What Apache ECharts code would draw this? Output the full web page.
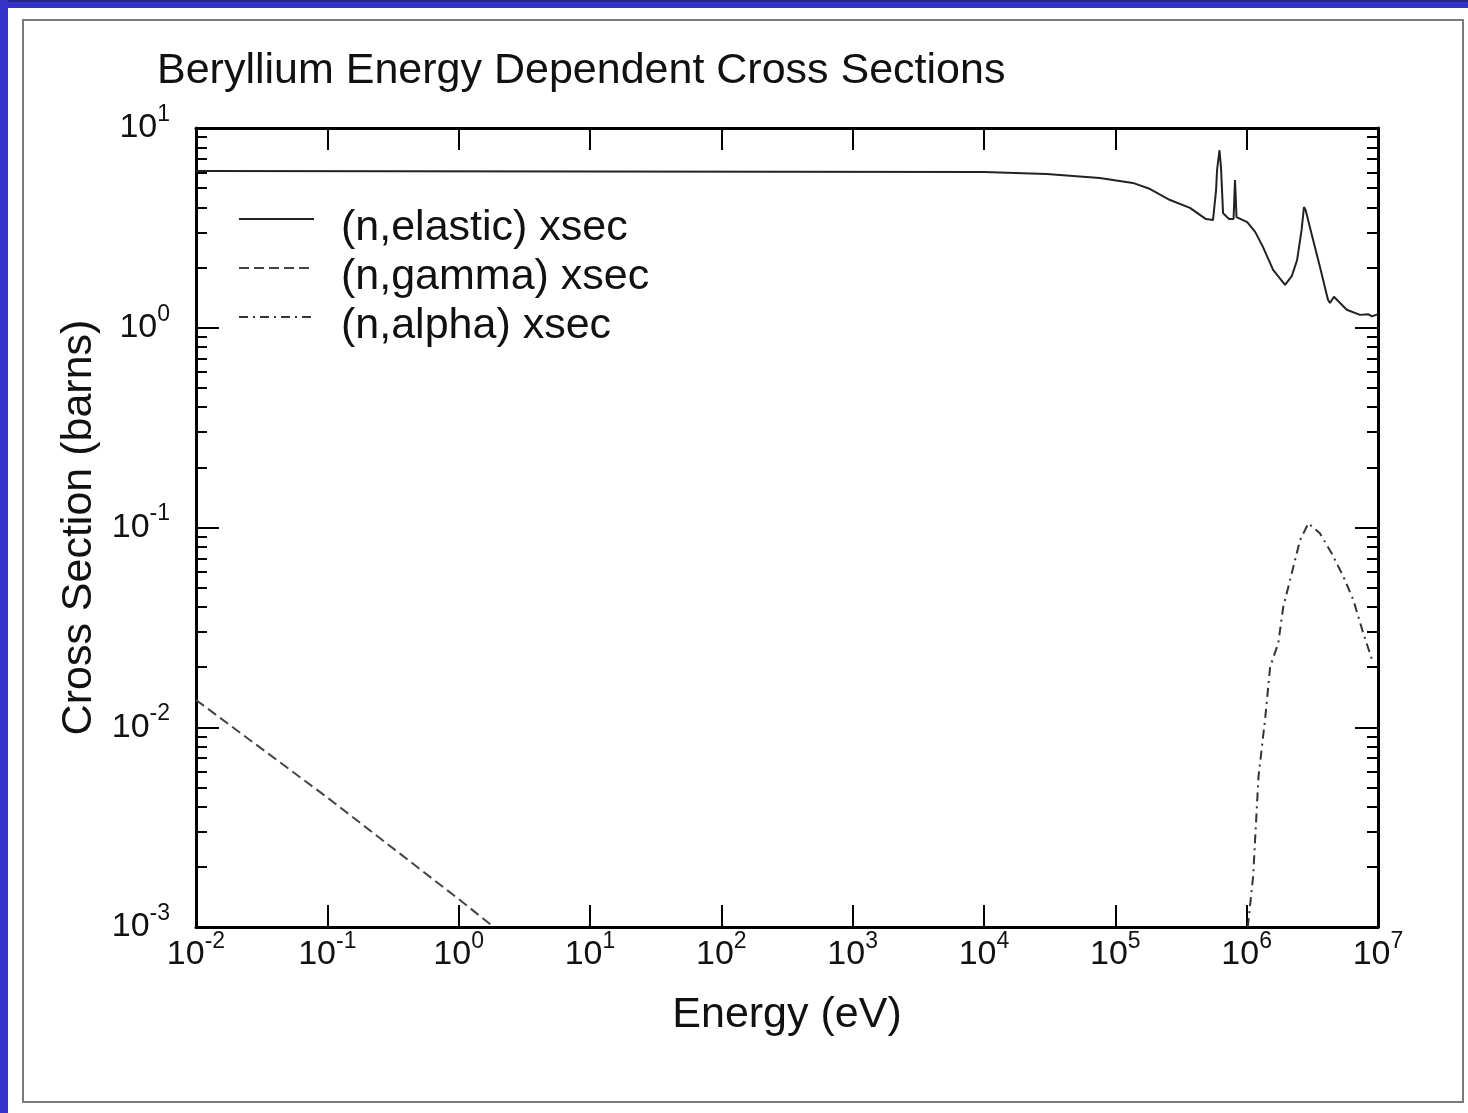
<!DOCTYPE html>
<html>
<head>
<meta charset="utf-8">
<script src="https://cdn.jsdelivr.net/npm/echarts@6/dist/echarts.min.js"></script>
<style>
  html, body { margin: 0; padding: 0; background: #fff; }
  #page { position: relative; width: 1468px; height: 1113px; background: #fff; overflow: hidden; }
  #blueTop { position: absolute; left: 0; top: 0; width: 1468px; height: 8px; background: #3434c8; border-top: 2px solid #24248a; box-sizing: border-box; }
  #blueLeft { position: absolute; left: 0; top: 0; width: 8px; height: 1113px; background: #3434c8; }
  #panel { position: absolute; left: 22px; top: 19px; width: 1438px; height: 1080px; border: 2px solid #7a7a7a; }
  #chart { position: absolute; left: 0; top: 0; width: 1468px; height: 1113px; }
</style>
</head>
<body>
<div id="page">
  <div id="blueTop"></div>
  <div id="blueLeft"></div>
  <div id="panel"></div>
  <div id="chart"></div>
</div>
<script>
// energies in eV, cross sections in barns
const elasticE = [1e-2, 1e4, 3.0e4, 7.6e4, 1.36e5, 1.84e5, 2.61e5, 3.70e5, 4.90e5, 5.54e5, 5.85e5, 5.95e5, 6.21e5, 6.38e5, 6.61e5, 7.34e5, 7.95e5, 8.15e5, 8.37e5, 1.01e6, 1.16e6, 1.33e6, 1.59e6, 1.96e6, 2.21e6, 2.42e6, 2.62e6, 2.73e6, 2.81e6, 3.04e6, 3.62e6, 4.16e6, 4.31e6, 4.62e6, 5.78e6, 7.29e6, 8.39e6, 9.0e6, 1e7];
const elasticXs = [6.09, 6.02, 5.88, 5.62, 5.31, 4.95, 4.36, 3.98, 3.50, 3.46, 4.89, 6.16, 7.74, 6.31, 3.75, 3.50, 3.50, 5.49, 3.58, 3.38, 3.02, 2.54, 1.95, 1.64, 1.82, 2.18, 3.09, 4.02, 3.89, 3.16, 2.01, 1.38, 1.33, 1.43, 1.23, 1.16, 1.17, 1.14, 1.17];

const gammaE = [0.01, 0.1, 1.0, 1.85];
const gammaXs = [0.0137, 0.00445, 0.00138, 0.001];

const alphaE = [1.02e6, 1.12e6, 1.23e6, 1.38e6, 1.51e6, 1.74e6, 1.90e6, 2.27e6, 2.55e6, 2.95e6, 3.61e6, 4.44e6, 5.45e6, 6.49e6, 7.73e6, 9.2e6];
const alphaXs = [0.001, 0.00179, 0.00565, 0.0109, 0.0201, 0.0263, 0.0401, 0.0637, 0.0865, 0.105, 0.0935, 0.0743, 0.0568, 0.0434, 0.0295, 0.0209];

const seriesNames = ['(n,elastic) xsec', '(n,gamma) xsec', '(n,alpha) xsec'];

// decade exponents for the tick labels
const xTickExp = [-2, -1, 0, 1, 2, 3, 4, 5, 6, 7];
const yTickExp = [-3, -2, -1, 0, 1];

const font = '"Liberation Sans", Arial, Helvetica, sans-serif';

const toLog = (es, xs) => es.map((e, i) => [Math.log10(e), Math.log10(xs[i])]);

// minor ticks at 2..9 x 10^n on the log y axis
const yMinor = [];
yTickExp.slice(0, -1).forEach(n => {
  for (let k = 2; k <= 9; k++) yMinor.push(Math.log10(k) + n);
});

// "10" with a raised exponent
const rich = {
  b: { fontSize: 34, fontFamily: font, color: '#111', lineHeight: 50 },
  s: { fontSize: 23, fontFamily: font, color: '#111', lineHeight: 22, verticalAlign: 'top' },
};
const powLabel = v => '{b|10}{s|' + v + '}';

const frameLine = { show: true, onZero: false, lineStyle: { color: '#000', width: 3 } };
const noLine = { show: false, onZero: false };
const majorTick = len => ({ show: true, inside: true, length: len, lineStyle: { color: '#000', width: 2 } });
const minorTick = { show: true, inside: true, length: 11, customValues: yMinor, lineStyle: { color: '#000', width: 2 } };

const chart = echarts.init(document.getElementById('chart'));

chart.setOption({
  animation: false,
  title: {
    text: 'Beryllium Energy Dependent Cross Sections',
    left: 157,
    top: 50,
    padding: 0,
    textStyle: { fontSize: 43, fontWeight: 'normal', color: '#111', fontFamily: font },
  },
  legend: {
    orient: 'vertical',
    left: 238,
    top: 207,
    padding: 0,
    itemWidth: 75,
    itemHeight: 20,
    itemGap: 6,
    data: seriesNames,
    itemStyle: { opacity: 0 },
    // a tall blank token lets the name sit a little below the line sample
    formatter: name => '{g| }{t|' + name + '}',
    textStyle: {
      rich: {
        g: { fontSize: 1, lineHeight: 62, width: 22 },
        t: { fontSize: 43, lineHeight: 48, color: '#111', fontFamily: font, verticalAlign: 'bottom' },
      },
    },
  },
  grid: { left: 196, top: 128, width: 1182, height: 799, containLabel: false },
  xAxis: [
    {
      type: 'value',
      position: 'bottom',
      min: -2,
      max: 7,
      interval: 1,
      axisLine: frameLine,
      axisTick: majorTick(22),
      axisLabel: { formatter: powLabel, rich: rich, margin: 3 },
      splitLine: { show: false },
      name: 'Energy (eV)',
      nameLocation: 'middle',
      nameGap: 67,
      nameTextStyle: { fontSize: 43, color: '#111', fontFamily: font },
    },
    {
      type: 'value',
      position: 'top',
      min: -2,
      max: 7,
      interval: 1,
      axisLine: frameLine,
      axisTick: majorTick(22),
      axisLabel: { show: false },
      splitLine: { show: false },
    },
  ],
  yAxis: [
    {
      type: 'value',
      position: 'left',
      min: -3,
      max: 1,
      interval: 1,
      axisLine: frameLine,
      axisTick: majorTick(23),
      axisLabel: { formatter: powLabel, rich: rich, margin: 26 },
      splitLine: { show: false },
      name: 'Cross Section (barns)',
      nameLocation: 'middle',
      nameGap: 79,
      nameRotate: 90,
      nameTextStyle: { fontSize: 43, color: '#111', fontFamily: font },
    },
    {
      type: 'value',
      position: 'left',
      min: -3,
      max: 1,
      axisLine: noLine,
      axisTick: minorTick,
      axisLabel: { show: false },
      splitLine: { show: false },
    },
    {
      type: 'value',
      position: 'right',
      min: -3,
      max: 1,
      interval: 1,
      axisLine: frameLine,
      axisTick: majorTick(23),
      axisLabel: { show: false },
      splitLine: { show: false },
    },
    {
      type: 'value',
      position: 'right',
      min: -3,
      max: 1,
      axisLine: noLine,
      axisTick: minorTick,
      axisLabel: { show: false },
      splitLine: { show: false },
    },
  ],
  series: [
    {
      name: seriesNames[0],
      type: 'line',
      data: toLog(elasticE, elasticXs),
      symbol: 'none',
      color: '#222',
      lineStyle: { color: '#222', width: 2 },
    },
    {
      name: seriesNames[1],
      type: 'line',
      data: toLog(gammaE, gammaXs),
      symbol: 'none',
      color: '#444',
      lineStyle: { color: '#444', width: 2, type: [10, 5] },
    },
    {
      name: seriesNames[2],
      type: 'line',
      data: toLog(alphaE, alphaXs),
      symbol: 'none',
      color: '#333',
      lineStyle: { color: '#333', width: 2, type: [9, 5, 2, 5] },
    },
  ],
});
</script>
</body>
</html>
